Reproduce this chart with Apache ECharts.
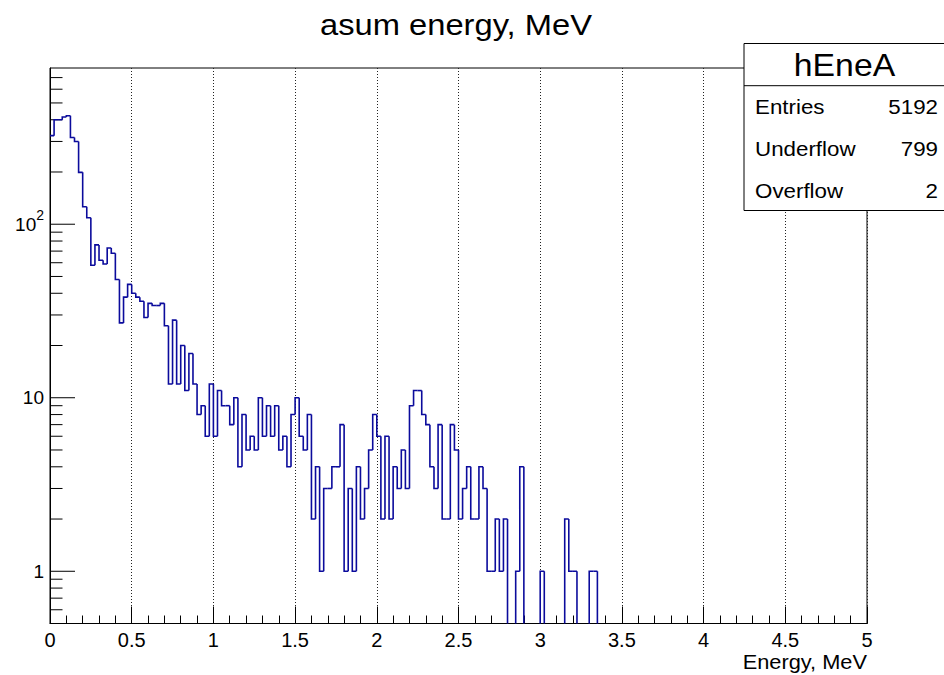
<!DOCTYPE html>
<html>
<head>
<meta charset="utf-8">
<script src="https://cdn.jsdelivr.net/npm/echarts@6/dist/echarts.min.js"></script>
<style>
html,body{margin:0;padding:0;background:#fff;}
#chart{width:944px;height:675px;}
</style>
</head>
<body>
<div id="chart"></div>
<script>
// ---------------- data ----------------
const chartTitle = 'asum energy, MeV';
const xAxisTitle = 'Energy, MeV';
const binStart = 0;        // MeV
const binWidth = 0.025;    // MeV
const counts = [
  324, 400, 400, 415, 422, 316, 300, 199, 126, 109,
   58,  76,  62,  59,  73,  68,  48,  27,  38,  45,
   40,  38,  36,  29,  35,  34,  34,  35,  26,  12,
   28,  12,  20,  11,  18,  12,   8,   9,   6,  12,
    6,  11,   9,   9,   7,  10,   4,   8,   5,   6,
    5,  10,   6,   9,   6,   9,   5,   6,   4,   8,
   10,   6,   5,   8,   2,   4,   1,   3,   3,   4,
    4,   7,   1,   3,   1,   4,   2,   3,   5,   8,
    6,   2,   6,   2,   4,   3,   5,   3,   9,  11,
   11,   8,   7,   4,   3,   7,   2,   2,   7,   5,
    2,   3,   4,   2,   2,   4,   3,   1,   1,   2,
    1,   2,   0,   0,   1,   4,   0,   0,   0,   0,
    1,   0,   0,   0,   0,   0,   2,   1,   1,   0,
    0,   0,   1,   1,   0,   0,   0,   0,   0,   0,
    0,   0,   0,   0,   0,   0,   0,   0,   0,   0,
    0,   0,   0,   0,   0,   0,   0,   0,   0,   0,
    0,   0,   0,   0,   0,   0,   0,   0,   0,   0,
    0,   0,   0,   0,   0,   0,   0,   0,   0,   0,
    0,   0,   0,   0,   0,   0,   0,   0,   0,   0,
    0,   0,   0,   0,   0,   0,   0,   0,   0,   0
];
const xMin = 0, xMax = 5, xStep = 0.5;
const xTickLabels = ['0','0.5','1','1.5','2','2.5','3','3.5','4','4.5','5'];
const yMin = 0.5, yMax = 795;
const yMajorTicks = [1, 10, 100];
const yMajorLabels = ['{b|1}', '{b|10}', '{b|10}{sup|2}'];
const yMinorTicks = [0.6, 0.7, 0.8, 0.9,
                     2, 3, 4, 5, 6, 7, 8, 9,
                     20, 30, 40, 50, 60, 70, 80, 90,
                     200, 300, 400, 500, 600, 700];
const statsName = 'hEneA';
const statsLabels = ['Entries', 'Underflow', 'Overflow'];
const statsValues = ['5192', '799', '2'];

// ---------------- chart ----------------
const FONT = '"Liberation Sans", Arial, Helvetica, sans-serif';
const LINE_COLOR = '#0b0b9c';
const WIDEN = 1.09;

const histData = counts.map((c, i) => [
  binStart + i * binWidth,
  binStart + (i + 1) * binWidth,
  c,
  i > 0 ? counts[i - 1] : -1
]);

const yTickData = yMajorTicks.concat(yMinorTicks).map(v => [xMin, v]);

function labelForY(v) {
  for (let i = 0; i < yMajorTicks.length; i++) {
    if (Math.abs(v - yMajorTicks[i]) < 1e-6 * yMajorTicks[i]) return yMajorLabels[i];
  }
  return '';
}

const chart = echarts.init(document.getElementById('chart'), null, {renderer: 'svg'});

const statsX = 744, statsY = 43.5, statsW = 230, statsH = 167, statsDiv = 85.7;
const rowY = [107, 149, 191];

function txt(text, x, y, size, align) {
  return {
    type: 'text', z: 102, x: x, y: y, scaleX: WIDEN, scaleY: 1,
    style: {text: text, font: size + 'px ' + FONT, fill: '#000', align: align, verticalAlign: 'middle'}
  };
}

const graphics = [
  {
    type: 'rect', z: 100,
    shape: {x: statsX, y: statsY, width: statsW, height: statsH},
    style: {fill: '#fff', stroke: '#000', lineWidth: 1}
  },
  {
    type: 'line', z: 101,
    shape: {x1: statsX, y1: statsDiv, x2: statsX + statsW, y2: statsDiv},
    style: {stroke: '#000', lineWidth: 1}
  },
  txt(chartTitle, 456, 25, 30, 'center'),
  txt(statsName, 844.5, 65, 31, 'center'),
  txt(xAxisTitle, 867, 662, 20, 'right')
];
statsLabels.forEach((lab, i) => {
  graphics.push(txt(lab, 755, rowY[i], 20.5, 'left'));
  graphics.push(txt(statsValues[i], 938, rowY[i], 20.5, 'right'));
});

const option = {
  animation: false,
  backgroundColor: '#fff',
  grid: {
    left: 50, right: 77, top: 68, bottom: 51.5,
    show: true, borderColor: '#000', borderWidth: 1, backgroundColor: 'transparent',
    containLabel: false
  },
  xAxis: {
    type: 'value', min: xMin, max: xMax, interval: xStep,
    axisLine: {show: true, onZero: false, lineStyle: {color: '#000', width: 1}},
    axisTick: {show: true, inside: true, length: 17, lineStyle: {color: '#000', width: 1}},
    minorTick: {show: true, splitNumber: 5, length: 8, lineStyle: {color: '#000', width: 1}},
    splitLine: {show: true, lineStyle: {color: '#222', width: 1, type: [1, 2]}},
    minorSplitLine: {show: false},
    axisLabel: {
      show: true, margin: 6, color: '#000', fontFamily: FONT, fontSize: 20,
      formatter: v => xTickLabels[Math.round((v - xMin) / xStep)] || ''
    }
  },
  yAxis: {
    type: 'log', logBase: 10, min: yMin, max: yMax,
    axisLine: {show: true, onZero: false, lineStyle: {color: '#000', width: 1}},
    axisTick: {show: false},
    minorTick: {show: false},
    splitLine: {show: false},
    axisLabel: {
      show: true, margin: 6, color: '#000', fontFamily: FONT, fontSize: 19,
      showMinLabel: false, showMaxLabel: false,
      padding: [0, 0, 7, 0],
      formatter: v => labelForY(v),
      rich: {
        b: {fontFamily: FONT, fontSize: 19, color: '#000', lineHeight: 26, verticalAlign: 'bottom'},
        sup: {fontFamily: FONT, fontSize: 14, color: '#000', lineHeight: 14, verticalAlign: 'top'}
      }
    }
  },
  graphic: graphics,
  series: [
    {
      type: 'custom',
      name: 'yticks',
      data: yTickData,
      encode: {x: 0, y: 1},
      clip: false,
      silent: true,
      z: 5,
      renderItem: function (params, api) {
        const v = api.value(1);
        const p = api.coord([xMin, v]);
        const isMajor = yMajorTicks.some(m => Math.abs(m - v) < 1e-9 * m);
        const len = isMajor ? 25 : 12.5;
        return {
          type: 'line',
          shape: {x1: p[0], y1: p[1], x2: p[0] + len, y2: p[1]},
          style: {stroke: '#000', lineWidth: 1}
        };
      }
    },
    {
      type: 'custom',
      name: 'hEneA',
      data: histData,
      encode: {x: [0, 1], y: 2},
      clip: true,
      silent: true,
      z: 10,
      renderItem: function (params, api) {
        const cs = params.coordSys;
        const bottom = cs.y + cs.height + 3;
        const xl = api.value(0), xr = api.value(1);
        const v = api.value(2), vp = api.value(3);
        const x0 = api.coord([xl, 1])[0];
        const x1 = api.coord([xr, 1])[0];
        const y = v > 0 ? api.coord([xl, v])[1] : bottom;
        const pts = [];
        if (vp >= 0) {
          const yp = vp > 0 ? api.coord([xl, vp])[1] : bottom;
          pts.push([x0, yp]);
        }
        pts.push([x0, y]);
        pts.push([x1, y]);
        return {
          type: 'polyline',
          shape: {points: pts},
          style: {stroke: LINE_COLOR, lineWidth: 1.6, fill: 'none'}
        };
      }
    }
  ]
};
chart.setOption(option);
</script>
</body>
</html>
